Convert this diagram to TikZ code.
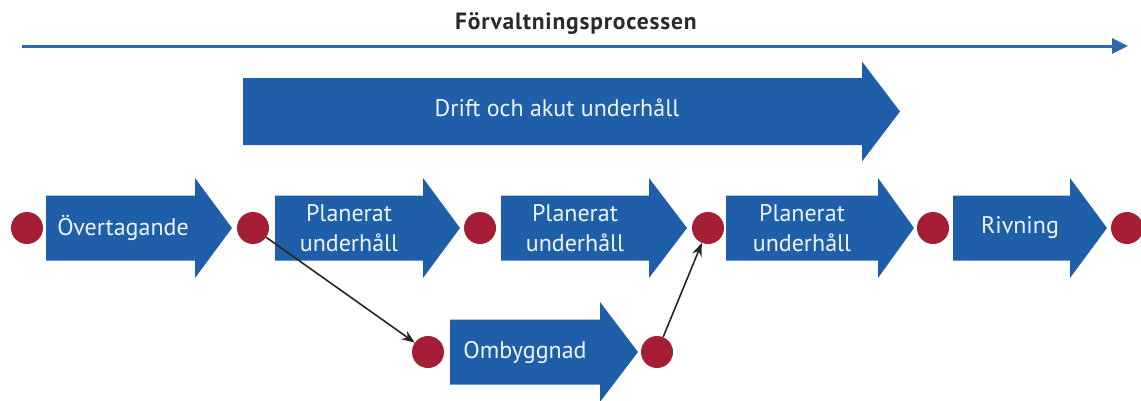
\documentclass[tikz,border=0pt]{standalone}
\usepackage{fontspec}
\setmainfont{PT Sans}
\usetikzlibrary{arrows.meta}
\definecolor{arrowblue}{HTML}{1F5FAA}
\definecolor{lineblue}{HTML}{2E66B0}
\definecolor{dotred}{HTML}{A51E36}
\definecolor{labelwhite}{HTML}{EEF3FA}
\definecolor{titlegray}{HTML}{2A2A2A}
% block arrow: left x, head start x, tip x, centre y, shaft half-height
\newcommand\blockarrow[5]{%
  \fill[arrowblue] (#1,#4-#5) -- (#2,#4-#5) -- (#2,#4-50) -- (#3,#4)
    -- (#2,#4+50) -- (#2,#4+#5) -- (#1,#4+#5) -- cycle;}
\begin{document}
\begin{tikzpicture}[x=1pt,y=-1pt,
  dot/.style={circle,fill=dotred,minimum size=32pt,inner sep=0pt},
  arrowtext/.style={text=labelwhite,font=\fontsize{24}{30}\selectfont,align=center,inner sep=0pt},
  conn/.style={draw=black!85,line width=1.6pt,-{Stealth[length=13pt,width=10pt]}}]
\useasboundingbox (0,0) rectangle (1141,400);

% overall process line
\node[font=\fontsize{23.5}{26}\selectfont\bfseries\addfontfeature{LetterSpace=3.5},
      text=titlegray,anchor=base,inner sep=0pt] (title) at (576,29) {Förvaltningsprocessen};
\coordinate (pstart) at (22,46);
\coordinate (pend) at (1128,46);
\draw[lineblue,line width=3pt,-{Triangle[length=16pt,width=15pt]}] (pstart) -- (pend);

% operation and maintenance
\blockarrow{243}{862}{900}{111.5}{33.5}
\node[arrowtext] (drift) at (557,108) {Drift och akut underhåll};

% main sequence
\blockarrow{46}{195}{232}{228}{32.5}
\blockarrow{275}{423}{460}{228}{32.5}
\blockarrow{501}{649}{687}{228}{32.5}
\blockarrow{726}{878}{914}{228}{32.5}
\blockarrow{953}{1070}{1107}{228}{32.5}
\node[arrowtext] (a1) at (123,228) {Övertagande};
\node[arrowtext] (a2) at (349,228) {Planerat\\underhåll};
\node[arrowtext] (a3) at (575,228) {Planerat\\underhåll};
\node[arrowtext] (a4) at (802,228) {Planerat\\underhåll};
\node[arrowtext] (a5) at (1020,228) {Rivning};

% rebuilding branch
\blockarrow{450}{600}{638}{352}{32.5}
\node[arrowtext] (a6) at (525,352) {Ombyggnad};

% milestones
\node[dot] (m1) at (27,228) {};
\node[dot] (m2) at (253,228) {};
\node[dot] (m3) at (480,228) {};
\node[dot] (m4) at (708,228) {};
\node[dot] (m5) at (933,228) {};
\node[dot] (m6) at (1127,228) {};
\node[dot] (m7) at (428,352) {};
\node[dot] (m8) at (657,352) {};

\draw[conn] (m2) -- (m7);
\draw[conn] (m8) -- (m4);
\end{tikzpicture}
\end{document}
